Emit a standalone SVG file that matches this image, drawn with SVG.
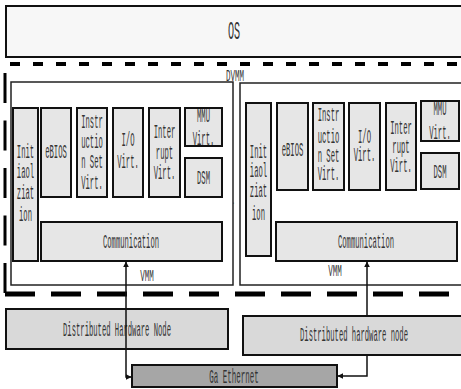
<svg xmlns="http://www.w3.org/2000/svg" width="461" height="389" viewBox="0 0 461 389">
<style>
.t{font-family:"Liberation Mono","DejaVu Sans Mono",monospace;font-size:20px;fill:#333;text-anchor:middle;transform-box:fill-box;transform-origin:50% 50%;transform:scaleX(0.36)}
.s{font-size:16px;transform:scaleX(0.47)}
.o{font-size:26px;transform:scaleX(0.39)}
.box{fill:#e6e6e6;stroke:#111;stroke-width:2}
.vmm{fill:#fff;stroke:#222;stroke-width:1.5}
.hw{fill:#d9d9d9;stroke:#111;stroke-width:2}
.con{fill:none;stroke:#111;stroke-width:1.5}
</style>
<defs>
<marker id="ah" viewBox="0 0 10 10" refX="9" refY="5" markerWidth="6" markerHeight="6" orient="auto-start-reverse" markerUnits="userSpaceOnUse">
<path d="M0,0 L10,5 L0,10 z" fill="#111"/>
</marker>
</defs>
<g id="os">
<rect x="6" y="6" width="462" height="51" fill="#f7f7f7" stroke="#111" stroke-width="2"/>
<text class="t o" x="234" y="39">OS</text>
</g>
<g id="dvmm">
<line x1="10" y1="64" x2="461" y2="64" stroke="#000" stroke-width="4" stroke-dasharray="10 13"/>
<line x1="5" y1="73" x2="5" y2="293" stroke="#000" stroke-width="3" stroke-dasharray="30 17.5"/>
<line x1="5" y1="294" x2="461" y2="294" stroke="#000" stroke-width="5" stroke-dasharray="30 16"/>
<text class="t s" x="235" y="81">DVMM</text>
<text class="t s" x="232" y="204" style="font-size:10px">..</text>
</g>
<g id="vmm1">
<rect class="vmm" x="11" y="82" width="222" height="203"/>
<rect class="box" x="13" y="108" width="25" height="153"/>
<text class="t" x="25.5" y="158">Init</text>
<text class="t" x="25.5" y="178">iaol</text>
<text class="t" x="25.5" y="199">ziat</text>
<text class="t" x="25.5" y="221">ion</text>
<rect class="box" x="41" y="108" width="30" height="89"/>
<text class="t" x="56" y="158">eBIOS</text>
<rect class="box" x="77" y="108" width="30" height="89"/>
<text class="t" x="92" y="128">Instr</text>
<text class="t" x="92" y="148">uctio</text>
<text class="t" x="92" y="168">n Set</text>
<text class="t" x="92" y="189">Virt.</text>
<rect class="box" x="113" y="108" width="30" height="89"/>
<text class="t" x="128" y="146">I/O</text>
<text class="t" x="128" y="168">Virt.</text>
<rect class="box" x="149" y="108" width="31" height="89"/>
<text class="t" x="164.5" y="138">Inter</text>
<text class="t" x="164.5" y="159">rupt</text>
<text class="t" x="164.5" y="179">Virt.</text>
<rect class="box" x="185" y="108" width="37" height="38"/>
<text class="t" x="203.5" y="122">MMU</text>
<text class="t" x="203.5" y="145">Virt.</text>
<rect class="box" x="185" y="158" width="37" height="39"/>
<text class="t" x="203.5" y="184">DSM</text>
<rect class="box" x="41" y="222" width="181" height="39"/>
<text class="t" x="131" y="248">Communication</text>
<text class="t s" x="147" y="281">VMM</text>
</g>
<g id="vmm2">
<rect class="vmm" x="240" y="83" width="230" height="202"/>
<rect class="box" x="246" y="103" width="25" height="153"/>
<text class="t" x="258.5" y="158">Init</text>
<text class="t" x="258.5" y="177">iaol</text>
<text class="t" x="258.5" y="197">ziat</text>
<text class="t" x="258.5" y="220">ion</text>
<rect class="box" x="277" y="103" width="31" height="87"/>
<text class="t" x="292.5" y="156">eBIOS</text>
<rect class="box" x="313" y="103" width="31" height="87"/>
<text class="t" x="328.5" y="121">Instr</text>
<text class="t" x="328.5" y="143">uctio</text>
<text class="t" x="328.5" y="162">n Set</text>
<text class="t" x="328.5" y="180">Virt.</text>
<rect class="box" x="349" y="103" width="31" height="87"/>
<text class="t" x="364.5" y="143">I/O</text>
<text class="t" x="364.5" y="161">Virt.</text>
<rect class="box" x="386" y="103" width="30" height="87"/>
<text class="t" x="401" y="134">Inter</text>
<text class="t" x="401" y="153">rupt</text>
<text class="t" x="401" y="172">Virt.</text>
<rect class="box" x="421" y="101" width="38" height="40"/>
<text class="t" x="440" y="115">MMU</text>
<text class="t" x="440" y="139">Virt.</text>
<rect class="box" x="421" y="153" width="38" height="36"/>
<text class="t" x="440" y="178">DSM</text>
<rect class="box" x="276" y="222" width="181" height="39"/>
<text class="t" x="366" y="248">Communication</text>
<text class="t s" x="335" y="276">VMM</text>
</g>
<g id="hw1">
<rect class="hw" x="6" y="309" width="222" height="40"/>
<text class="t" x="117" y="336">Distributed Hardware Node</text>
</g>
<g id="connectors">
<path class="con" d="M126,262 V377 H131" marker-start="url(#ah)" marker-end="url(#ah)"/>
<path class="con" d="M367,262 V376 H338" marker-start="url(#ah)" marker-end="url(#ah)"/>
</g>
<g id="hw2">
<rect class="hw" x="243" y="316" width="225" height="39"/>
<text class="t" x="354" y="341">Distributed hardware node</text>
</g>
<g id="eth">
<rect x="132" y="365" width="205" height="22" fill="#a6a6a6" stroke="#111" stroke-width="2"/>
<text class="t" x="234" y="383" style="transform:scaleX(0.375)">Ga Ethernet</text>
</g>
</svg>
